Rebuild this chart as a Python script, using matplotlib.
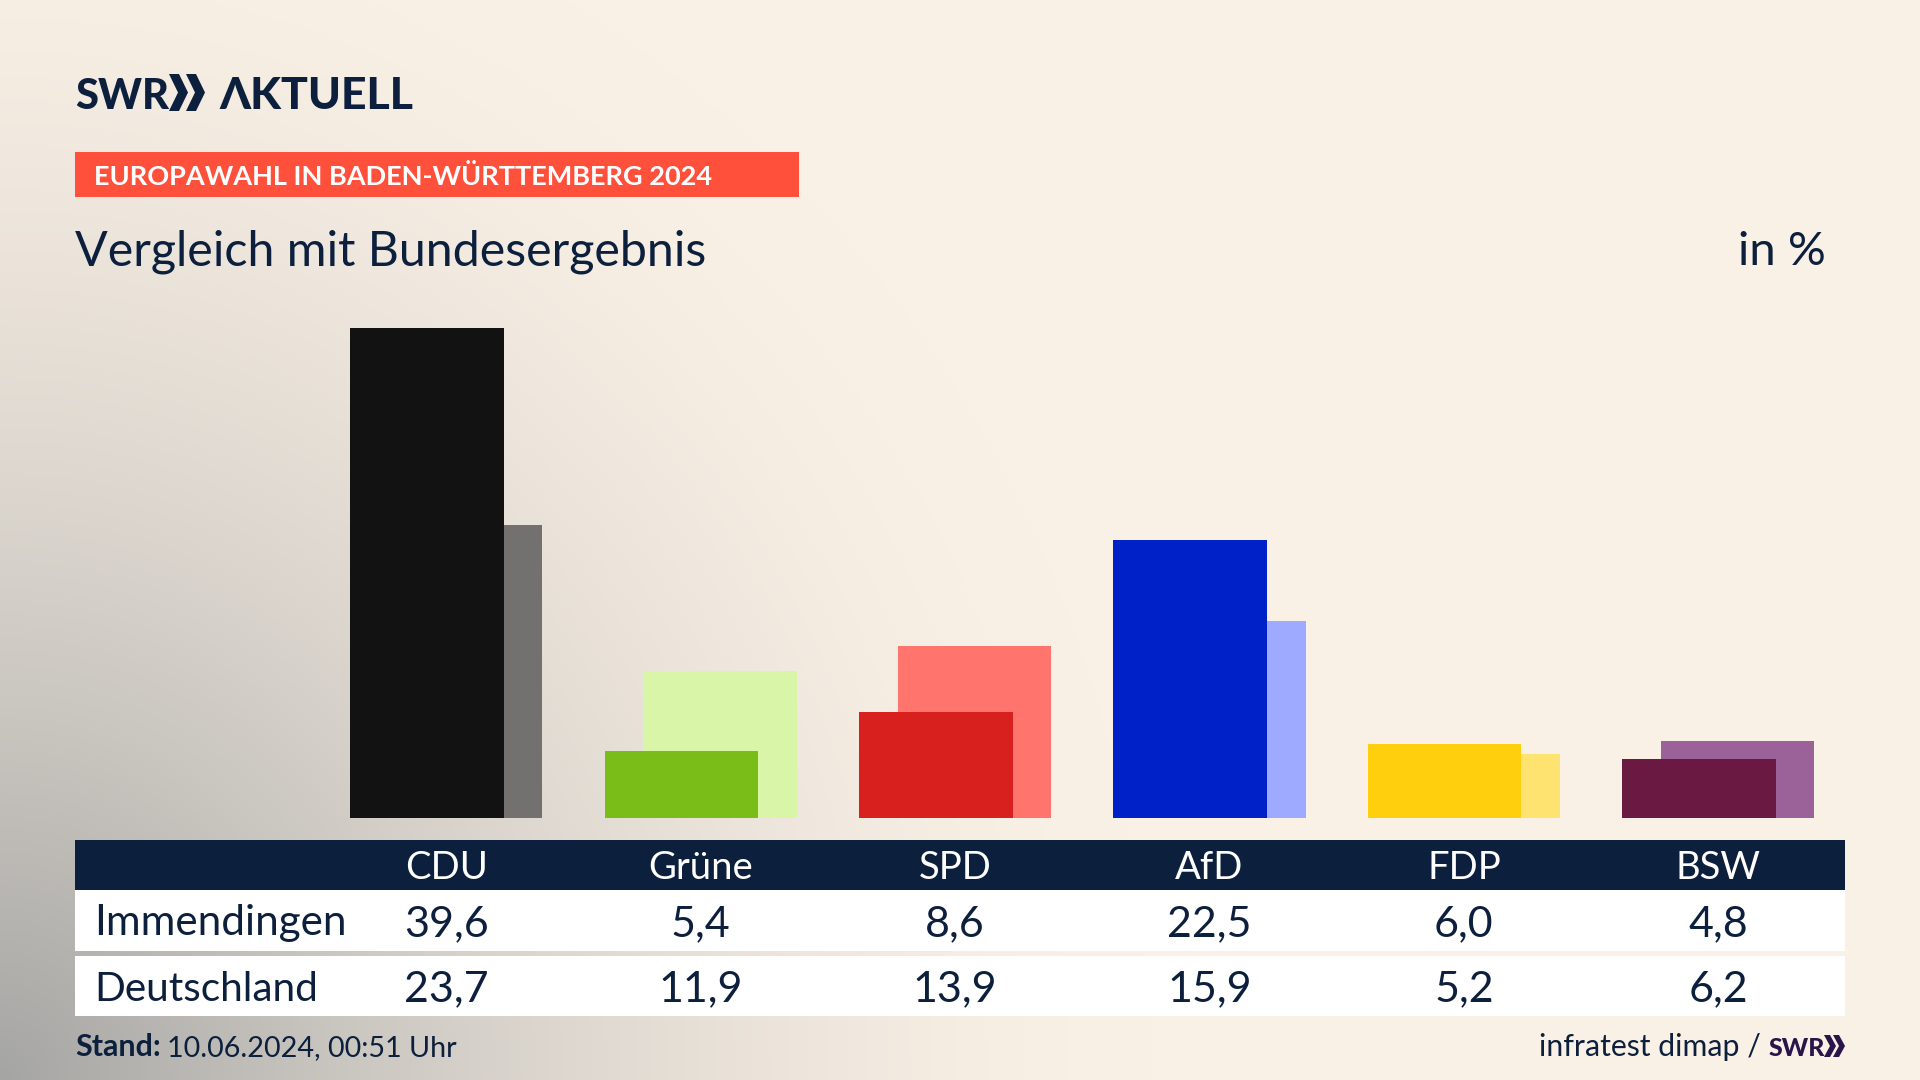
from typing import Tuple
import numpy as np
import matplotlib.pyplot as plt


def getBackground(width: int, height: int) -> np.ndarray:
    xs, ys = np.meshgrid(np.linspace(0, 1, width), np.linspace(0, 1, height))
    distance = np.sqrt((xs / .6) ** 2 + ((1 - ys) / 1.15) ** 2)
    shade = np.clip(1 - distance, 0, 1) ** 1.6
    cream = np.array([250, 241, 230]) / 255
    gray = np.array([165, 165, 163]) / 255
    return cream + (gray - cream) * shade[:, :, np.newaxis]


def drawChevrons(x: float, top: float, bottom: float, size: Tuple[float, float, float], color: str):
    step, thick, depth = size
    middle = (top + bottom) / 2
    for left in [x, x + step]:
        plt.fill([left, left + thick, left + thick + depth, left + thick, left, left + depth],
                 [top, top, middle, bottom, bottom, middle], color=color, lw=0)


if __name__ == "__main__":
    plt.rcParams['font.family'] = ['Lato', 'DejaVu Sans']
    navy = '#0c1f3c'

    parties = ['CDU', 'Grüne', 'SPD', 'AfD', 'FDP', 'BSW']
    immendingen = [39.6, 5.4, 8.6, 22.5, 6.0, 4.8]
    deutschland = [23.7, 11.9, 13.9, 15.9, 5.2, 6.2]
    colorsFront = ['#121212', '#7abd18', '#d8201e', '#0021c8', '#ffcf0d', '#6a1a42']
    colorsBack = ['#72716f', '#d8f5a8', '#ff756e', '#9daaff', '#ffe370', '#9a6298']

    plt.figure(figsize=(19.2, 10.8), dpi=100)

    # page layer is in pixels, from the top left
    plt.axes([0, 0, 1, 1])
    plt.imshow(getBackground(480, 270), extent=[0, 1920, 1080, 0], aspect='auto')
    plt.axis([0, 1920, 1080, 0])
    plt.axis('off')

    # logo
    plt.text(75, 109, 'SWR', fontsize=30, weight='black', color=navy, va='baseline')
    drawChevrons(169, 74, 111, (17, 10, 9), navy)
    plt.text(219, 109, 'ΛKTUELL', fontsize=32, weight='black', color=navy, va='baseline')

    # headline
    plt.axhspan(152, 197, xmin=75 / 1920, xmax=799 / 1920, color='#ff503c', lw=0)
    plt.text(94, 185, 'EUROPAWAHL IN BADEN-WÜRTTEMBERG 2024', fontsize=19.5, weight='bold', color='white')
    plt.text(75, 265, 'Vergleich mit Bundesergebnis', fontsize=34.8, color=navy)
    plt.text(1826, 265, 'in %', fontsize=34, color=navy, ha='right')

    # table
    plt.axhspan(840, 890, xmin=75 / 1920, xmax=1845 / 1920, color=navy, lw=0)
    plt.axhspan(890, 951, xmin=75 / 1920, xmax=1845 / 1920, color='white', lw=0)
    plt.axhspan(956, 1016, xmin=75 / 1920, xmax=1845 / 1920, color='white', lw=0)
    plt.text(94, 935, 'Immendingen', fontsize=30.4, color=navy)
    plt.text(94, 1001, 'Deutschland', fontsize=29.2, color=navy)
    for i, party in enumerate(parties):
        columnX = 446.3 + i * 254.4
        plt.text(columnX, 879, party, fontsize=27.5, color='white', ha='center')
        plt.text(columnX, 936, f"{immendingen[i]:.1f}".replace('.', ','), fontsize=31, color=navy, ha='center')
        plt.text(columnX, 1001, f"{deutschland[i]:.1f}".replace('.', ','), fontsize=31, color=navy, ha='center')

    # footer
    plt.text(75, 1056, 'Stand:', fontsize=22, weight='bold', color=navy)
    plt.text(167, 1056, '10.06.2024, 00:51 Uhr', fontsize=20.7, color=navy)
    plt.text(1539, 1056, 'infratest dimap /', fontsize=21.8, color=navy)
    plt.text(1769, 1056, 'SWR', fontsize=18, weight='black', color='#2a1449')
    drawChevrons(1824, 1035, 1057, (9, 6, 6), '#2a1449')
    plt.axis([0, 1920, 1080, 0])

    # bars sit on the line at 818 px, 12.37 px per percent, 254.4 px per party
    plt.axes([0, (1080 - 818) / 1080, 1, 818 / 1080])
    x = np.arange(len(parties))
    plt.bar(x + .076, deutschland, width=.604, color=colorsBack)
    plt.bar(x - .076, immendingen, width=.604, color=colorsFront)
    plt.axis([-446.3 / 254.4, (1920 - 446.3) / 254.4, 0, 818 / 12.37])
    plt.axis('off')

    plt.savefig('out.png', dpi=100)
